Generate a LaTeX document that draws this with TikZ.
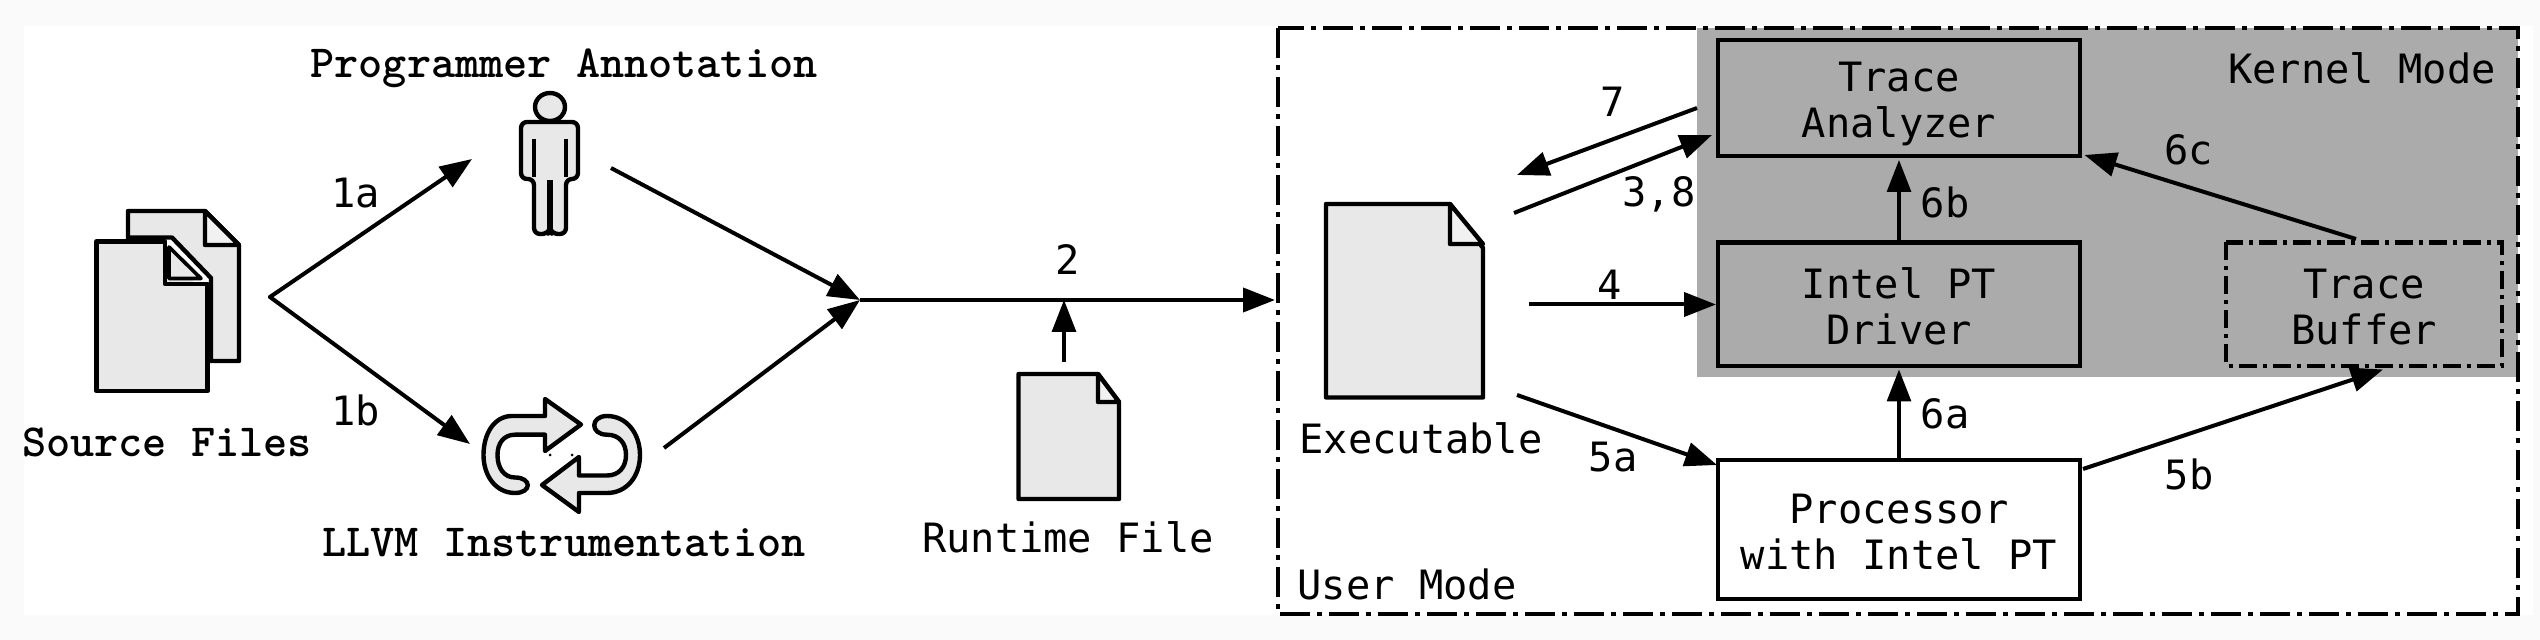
\documentclass[tikz,border=0pt]{standalone}
\usepackage{fontspec}
\usetikzlibrary{arrows.meta}
\setmonofont{DejaVu Sans Mono}
\newfontfamily\slabfont{Latin Modern Mono Light}
\definecolor{pagebg}{HTML}{FAFAFA}
\definecolor{kernelgrey}{HTML}{ABABAB}
\definecolor{docgrey}{HTML}{E8E8E8}
\newcommand{\twolines}[2]{\rule{0pt}{22pt}#1\\\rule[-5pt]{0pt}{5pt}#2}
\tikzset{
  x=0.5pt,y=-0.5pt,
  flow/.style={line width=2pt,-{Triangle[length=16pt,width=12pt]}},
  plainlabel/.style={font=\fontsize{20.2pt}{23pt}\selectfont\ttfamily,inner sep=0pt,align=center},
  slablabel/.style={font=\fontsize{23pt}{25pt}\selectfont\slabfont\bfseries,inner sep=0pt},
  boxtext/.style={font=\fontsize{20.2pt}{23pt}\selectfont\ttfamily,align=center,inner sep=0pt,outer sep=0pt},
  procbox/.style={boxtext,draw=black,line width=2.2pt,minimum width=181pt},
  docshape/.style={draw=black,fill=docgrey,line width=2.2pt,line join=round},
  anchorbox/.style={inner sep=0pt,outer sep=0pt},
  borderdash/.style={line width=1.9pt,dash pattern=on 15pt off 3.5pt on 2.5pt off 3.5pt},
  bufferdash/.style={line width=2.2pt,dash pattern=on 9pt off 3pt on 2pt off 3pt},
}
\begin{document}
\begin{tikzpicture}
\useasboundingbox (0,0) rectangle (2540,640);
\fill[pagebg] (0,0) rectangle (2540,640);
\fill[white] (24,26) rectangle (2533,615);
% regions
\fill[kernelgrey] (1697,28) rectangle (2518,377.5);
\draw[borderdash] (1278,28) rectangle (2518,614);

% source files
\draw[docshape] (128,211) -- (205,211) -- (239,245) -- (239,361) -- (128,361) -- cycle;
\draw[docshape,fill=docgrey!60] (205,211) -- (239,245) -- (205,245) -- cycle;
\fill[white] (160,237) -- (172,237) -- (211,278) -- (211,290) -- (200,290) -- cycle;
\draw[draw=black,line width=2.2pt,line join=round] (128,237.5) -- (172,237.5) -- (211,278) -- (211,361);
\fill[docgrey] (96.5,241.5) rectangle (165,391);
\fill[docgrey] (165,284) rectangle (207.5,391);
\draw[draw=black,line width=2.2pt,line join=round] (165,241.5) -- (96.5,241.5) -- (96.5,391) -- (207.5,391) -- (207.5,284) -- (165,284) -- cycle;
\draw[docshape,line width=1.8pt] (169,247) -- (201,278.5) -- (169,278.5) -- cycle;
\node[slablabel] (srclabel) at (167,442) {Source Files};

% person
\node[anchorbox,minimum width=28.5pt,minimum height=56pt] (person) at (550,178) {};
\draw[docshape] (550,107) ellipse (15 and 14);
\draw[docshape,rounded corners=3pt] (550,122) -- (578,122) -- (578,179) -- (566,179) -- (566,234) -- (552,234) -- (550,228) -- (548,234) -- (534,234) -- (534,179) -- (521,179) -- (521,122) -- cycle;
\draw[line width=1.8pt] (534,139) -- (534,177);
\draw[line width=1.8pt] (566,139) -- (566,177);
\draw[line width=2.6pt] (550,180) -- (550,230);
\node[slablabel] (annot) at (564,68) {Programmer Annotation};

% instrumentation icon
\draw[docshape] (581,424.5) -- (545,399) -- (545,416) -- (512,416)
  .. controls (494,416) and (483.5,434) .. (483.5,455)
  .. controls (483.5,476) and (496,493) .. (515,493)
  .. controls (532,493) and (532,477.5) .. (515,477.5)
  .. controls (504,477.5) and (497.5,468) .. (497.5,455)
  .. controls (497.5,443) and (504,434.7) .. (515,434.7)
  -- (545,434.7) -- (545,451) -- cycle;
\draw[docshape] (542,485) -- (579,457) -- (579,475.5) -- (607,475.5)
  .. controls (619,475.5) and (626,467) .. (626,455)
  .. controls (626,443) and (619,434.7) .. (607,434.7)
  .. controls (590,434.7) and (590,416) .. (607,416)
  .. controls (627,416) and (640,434) .. (640,455)
  .. controls (640,476) and (627,493) .. (607,493)
  -- (579,493) -- (579,512) -- cycle;
\fill (550,455) circle (1.5);
\fill (572,455) circle (1.5);
\node[anchorbox,minimum width=78pt,minimum height=56pt] (instr) at (562,455) {};
\node[slablabel] (llvm) at (564,543) {LLVM Instrumentation};

% runtime file
\draw[docshape] (1018.5,374) -- (1098,374) -- (1119,402) -- (1119,499) -- (1018.5,499) -- cycle;
\draw[docshape,fill=docgrey!60] (1098,374) -- (1119,402) -- (1098,402) -- cycle;
\node[anchorbox,minimum width=50pt,minimum height=62.5pt] (runtime) at (1069,436.5) {};
\node[plainlabel] (rtlabel) at (1068,537) {Runtime File};

% executable
\draw[docshape] (1326,204) -- (1450,204) -- (1483,248) -- (1483,397.5) -- (1326,397.5) -- cycle;
\draw[docshape,fill=docgrey!60] (1450,204) -- (1483,244) -- (1450,244) -- cycle;
\node[anchorbox,minimum width=78.5pt,minimum height=96.5pt] (exec) at (1404.5,301) {};
\node[plainlabel] (exlabel) at (1421,438) {Executable};

% boxes
\node[procbox,minimum height=58pt] (analyzer) at (1899,98) {\twolines{Trace}{Analyzer}};
\node[procbox,minimum height=61.75pt] (driver) at (1899,304.25) {\twolines{Intel PT}{Driver}};
\node[procbox,fill=white,minimum height=69.5pt] (proc) at (1899,529.5) {\twolines{Processor}{with Intel PT}};
\node[boxtext,minimum width=138pt,minimum height=61.75pt] (buffer) at (2364,304.25) {\twolines{Trace}{Buffer}};
\draw[bufferdash] (buffer.north west) rectangle (buffer.south east);

% connector ends
\coordinate (fork) at (270,297);
\coordinate (join) at (860,300);
\coordinate (toperson) at (472,159);
\coordinate (toinstr) at (470,444);
\coordinate (fromperson) at (611,168);
\coordinate (frominstr) at (664,448);
\coordinate (usermode) at (1275,300);
\coordinate (busjoin) at (1064,300);
\coordinate (rtout) at (1064,362);
\coordinate (anout) at (1697,108);
\coordinate (exin) at (1517,175);
\coordinate (exout) at (1514,213);
\coordinate (anin) at (1712,135);
\coordinate (exdrv) at (1529,304.5);
\coordinate (drvin) at (1716,304.5);
\coordinate (ex5a) at (1517,395);
\coordinate (procin) at (1717,465);
\coordinate (bufout) at (2356,239);
\coordinate (ancorner) at (2084.5,155);
\coordinate (procout) at (2083,469);
\coordinate (bufin) at (2383,369.5);
\coordinate (anbottom) at (1899,160);
\coordinate (drvbottom) at (1899,369.5);

% connectors
\draw[flow,line cap=round,line join=round] (fork) -- (toinstr);
\draw[flow,line cap=round] (fork) -- (toperson);
\draw[flow] (fromperson) -- (join);
\draw[flow] (frominstr) -- (join);
\draw[flow] (join) -- (usermode);
\draw[flow,line width=1.6pt] (rtout) -- (busjoin);
\draw[flow] (anout) -- (exin);
\draw[flow] (exout) -- (anin);
\draw[flow] (exdrv) -- (drvin);
\draw[flow] (ex5a) -- (procin);
\draw[flow,line width=1.6pt] (driver.north) -- (anbottom);
\draw[flow,line width=1.6pt] (proc.north) -- (drvbottom);
\draw[flow] (bufout) -- (ancorner);
\draw[flow] (procout) -- (bufin);

% labels
\node[plainlabel] (l1a) at (355.5,193) {1a};
\node[plainlabel] (l1b) at (355.5,410) {1b};
\node[plainlabel] (l2) at (1068,260) {2};
\node[plainlabel] (l7) at (1613,102) {7};
\node[plainlabel] (l38) at (1659,194) {3,8};
\node[plainlabel] (l4) at (1610,285) {4};
\node[plainlabel] (l5a) at (1613,457) {5a};
\node[plainlabel] (l5b) at (2189,474) {5b};
\node[plainlabel] (l6a) at (1945,414) {6a};
\node[plainlabel] (l6b) at (1945,202) {6b};
\node[plainlabel] (l6c) at (2188.5,150) {6c};
\node[plainlabel] (umode) at (1407,584) {User Mode};
\node[plainlabel] (kmode) at (2362,68) {Kernel Mode};
\end{tikzpicture}
\end{document}
